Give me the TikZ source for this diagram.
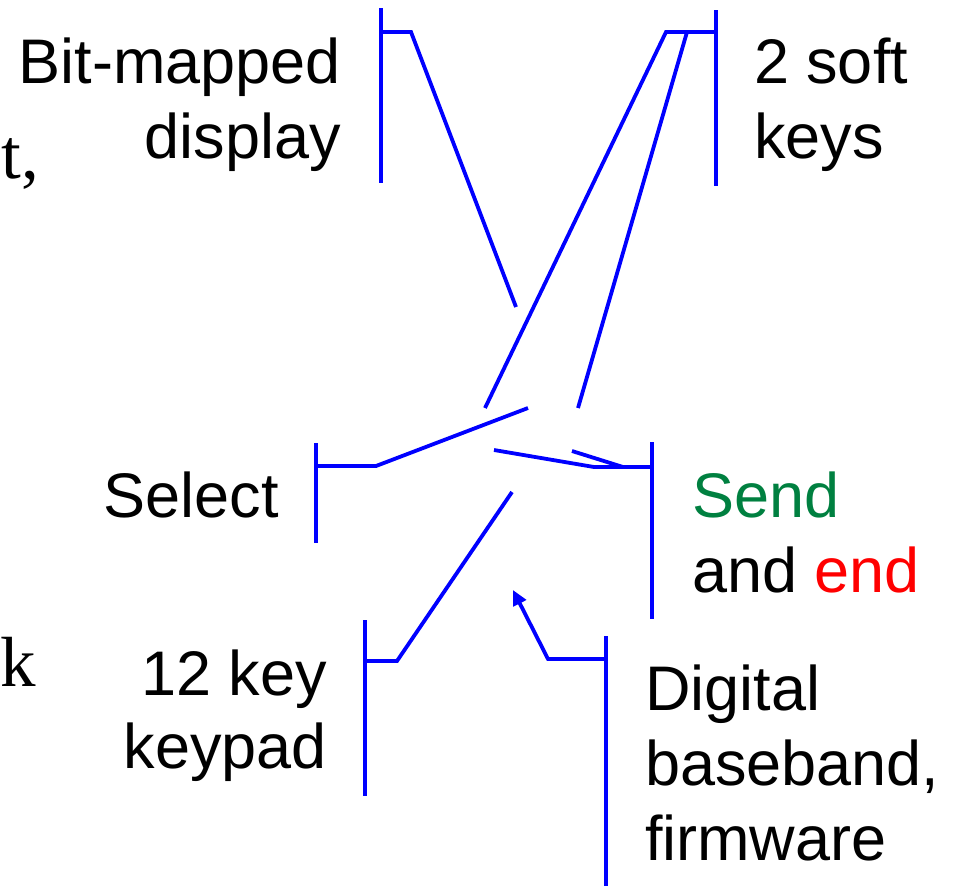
\documentclass[tikz,border=0pt]{standalone}
\usepackage{fontspec}
\setmainfont{Liberation Sans}
\newfontfamily\serifcut{Liberation Serif}
\usetikzlibrary{arrows.meta}
\definecolor{sendgreen}{RGB}{0,128,64}
\definecolor{endred}{RGB}{255,0,0}
\definecolor{leadblue}{RGB}{0,0,255}
\tikzset{
  lbl/.style={inner sep=0pt, outer sep=0pt, font=\fontsize{63}{75.5}\selectfont},
  lead/.style={draw=leadblue, line width=3.8pt, line cap=butt, line join=miter},
  bar/.style={draw=leadblue, line width=3.8pt},
  cut/.style={inner sep=0pt, outer sep=0pt, font=\serifcut\fontsize{71}{85}\selectfont},
}
\begin{document}
\begin{tikzpicture}[x=1pt,y=-1pt]
\useasboundingbox (0,0) rectangle (955,886);
% text fragments at the left edge
\node[cut, anchor=base east] (cutA) at (39,178) {t,};
\node[cut, anchor=base west] (cutB) at (0,686) {k};

% labels
\node[lbl, anchor=base east] (bm1) at (341,83) {Bit-mapped};
\node[lbl, anchor=base east] (bm2) at (341,158) {display};
\node[lbl, anchor=base west] (sk1) at (754,83) {2 soft};
\node[lbl, anchor=base west] (sk2) at (754,158) {keys};
\node[lbl, anchor=base east] (sel) at (279,517) {Select};
\node[lbl, anchor=base west] (se1) at (692,517) {\textcolor{sendgreen}{Send}};
\node[lbl, anchor=base west] (se2) at (692,592) {and \textcolor{endred}{end}};
\node[lbl, anchor=base east] (kp1) at (327,695) {12 key};
\node[lbl, anchor=base east] (kp2) at (327,768) {keypad};
\node[lbl, anchor=base west] (db1) at (645,710) {Digital};
\node[lbl, anchor=base west] (db2) at (645,785) {baseband,};
\node[lbl, anchor=base west] (db3) at (645,860) {firmware};

% callout bars
\coordinate (bmT) at (381,8);   \coordinate (bmB) at (381,183);
\coordinate (skT) at (716,10);  \coordinate (skB) at (716,186);
\coordinate (slT) at (316,443); \coordinate (slB) at (316,543);
\coordinate (snT) at (652,442); \coordinate (snB) at (652,619);
\coordinate (kpT) at (365,620); \coordinate (kpB) at (365,796);
\coordinate (dbT) at (606,636); \coordinate (dbB) at (606,886);
\path[bar] (bmT) -- (bmB);
\path[bar] (skT) -- (skB);
\path[bar] (slT) -- (slB);
\path[bar] (snT) -- (snB);
\path[bar] (kpT) -- (kpB);
\path[bar] (dbT) -- (dbB);

% leader elbows and free ends
\coordinate (bmE) at (381,32);  \coordinate (bmK) at (411,32);  \coordinate (bmP) at (516,307);
\coordinate (skE) at (716,32);  \coordinate (skK) at (666,32);  \coordinate (skP) at (485,408);
\coordinate (skK2) at (687,32); \coordinate (skP2) at (578,408);
\coordinate (slE) at (316,466); \coordinate (slK) at (376,466); \coordinate (slP) at (528,408);
\coordinate (snE) at (652,467); \coordinate (snK) at (594,467); \coordinate (snP) at (494,450);
\coordinate (snK2) at (623,467); \coordinate (snP2) at (572,451);
\coordinate (kpE) at (365,661); \coordinate (kpK) at (397,661); \coordinate (kpP) at (512,492);
\coordinate (dbE) at (606,659); \coordinate (dbK) at (548,659); \coordinate (dbP) at (513,590);

\path[lead] (bmE) -- (bmK) -- (bmP);
\path[lead] (skE) -- (skK) -- (skP);
\path[lead] (skK2) -- (skP2);
\path[lead] (slE) -- (slK) -- (slP);
\path[lead] (snE) -- (snK) -- (snP);
\path[lead] (snK2) -- (snP2);
\path[lead] (kpE) -- (kpK) -- (kpP);
\path[lead, -{Triangle[length=15pt,width=14pt]}] (dbE) -- (dbK) -- (dbP);
\end{tikzpicture}
\end{document}
